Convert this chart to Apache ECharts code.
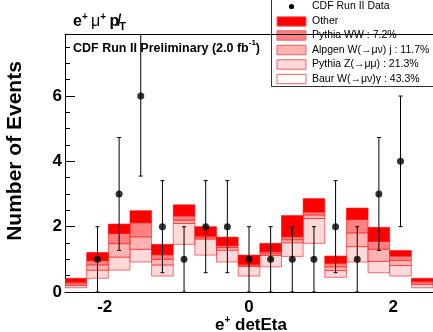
<!DOCTYPE html>
<html lang="en">
<head>
    <meta charset="UTF-8">
    <title>e mu detEta</title>
    <script src="https://cdn.jsdelivr.net/npm/echarts@6/dist/echarts.min.js"></script>
    <style>
        html, body { margin: 0; padding: 0; background: #ffffff; }
        #chart { width: 433px; height: 332px; }
    </style>
</head>
<body>
    <div id="chart"></div>

    <script>
        // bins of 0.3 in detEta, centred on 0
        const binCenters = [-2.4, -2.1, -1.8, -1.5, -1.2, -0.9, -0.6, -0.3, 0, 0.3, 0.6, 0.9, 1.2, 1.5, 1.8, 2.1, 2.4];
        const binWidth = 0.3;

        // stacked backgrounds, bottom to top
        const baur   = [0.13, 0.42, 0.67, 0.92, 0.49, 1.46, 1.13, 0.92, 0.49, 0.77, 1.09, 1.49, 0.45, 0.92, 0.59, 0.49, 0.13];
        const zmumu  = [0.07, 0.25, 0.40, 0.39, 0.34, 0.64, 0.49, 0.36, 0.29, 0.35, 0.42, 0.76, 0.21, 0.47, 0.35, 0.32, 0.10];
        const wjets  = [0.05, 0.16, 0.41, 0.38, 0.17, 0.10, 0.04, 0.08, 0.04, 0.05, 0.09, 0.11, 0.11, 0.42, 0.37, 0.16, 0.05];
        const ww     = [0.05, 0.13, 0.31, 0.43, 0.14, 0.13, 0.05, 0.06, 0.03, 0.06, 0.09, 0.09, 0.11, 0.41, 0.24, 0.13, 0.05];
        const other  = [0.12, 0.25, 0.29, 0.37, 0.32, 0.34, 0.29, 0.26, 0.28, 0.26, 0.65, 0.41, 0.22, 0.35, 0.43, 0.17, 0.09];

        // data
        const dataCounts = [0, 1, 3, 6, 2, 1, 2, 2, 1, 1, 1, 1, 2, 1, 3, 4, 0];
        const dataErrors = [0, 1, 1.73, 2.45, 1.41, 1, 1.41, 1.41, 1, 1, 1, 1, 1.41, 1, 1.73, 2, 0];

        const xTicks = [-2, 0, 2];
        const xMinorTicks = [-2.5, -1.5, -1, -0.5, 0.5, 1, 1.5, 2.5];
        const yTicks = [0, 2, 4, 6];
        const yMinorTicks = [0.5, 1, 1.5, 2.5, 3, 3.5, 4.5, 5, 5.5, 6.5, 7, 7.5];

        const legendNames = ['CDF Run II Data', 'Other', 'Pythia WW : 7.2%', 'Alpgen W(\u2192\u03bc\u03bd) j : 11.7%',
                             'Pythia Z(\u2192\u03bc\u03bc) : 21.3%', 'Baur W(\u2192\u03bc\u03bd)\u03b3 : 43.3%'];

        const FONT = 'Liberation Sans';
        const EDGE = 'rgba(255,0,0,0.55)';

        const layers = [
            { name: legendNames[5], values: baur,  color: '#ffffff', edge: null },
            { name: legendNames[4], values: zmumu, color: '#ffd9d9', edge: EDGE },
            { name: legendNames[3], values: wjets, color: '#ffb3b3', edge: EDGE },
            { name: legendNames[2], values: ww,    color: '#ff8080', edge: EDGE },
            { name: legendNames[1], values: other, color: '#ff0000', edge: EDGE }
        ];

        const running = binCenters.map(() => 0);
        const histSeries = layers.map(layer => {
            const rows = binCenters.map((c, i) => {
                const lo = running[i];
                running[i] = lo + layer.values[i];
                return [c, lo, running[i]];
            });
            return {
                name: layer.name,
                type: 'custom',
                clip: true,
                data: rows,
                renderItem: (params, api) => {
                    const c = api.value(0);
                    const p0 = api.coord([c - binWidth / 2, api.value(2)]);
                    const p1 = api.coord([c + binWidth / 2, api.value(1)]);
                    return {
                        type: 'rect',
                        shape: { x: p0[0], y: p0[1], width: p1[0] - p0[0], height: p1[1] - p0[1] },
                        style: { fill: layer.color, stroke: layer.edge, lineWidth: layer.edge ? 1 : 0 }
                    };
                }
            };
        });

        const pointRows = binCenters.map((c, i) => [c, dataCounts[i], dataErrors[i]]).filter(r => r[1] > 0);

        const errorSeries = {
            name: 'errors',
            type: 'custom',
            clip: true,
            z: 5,
            data: pointRows,
            renderItem: (params, api) => {
                const x = api.value(0), y = api.value(1), e = api.value(2);
                const top = api.coord([x, y + e]);
                const bot = api.coord([x, Math.max(0, y - e)]);
                const lineStyle = { stroke: '#000', lineWidth: 1 };
                return {
                    type: 'group',
                    children: [
                        { type: 'line', shape: { x1: top[0], y1: top[1], x2: bot[0], y2: bot[1] }, style: lineStyle },
                        { type: 'line', shape: { x1: top[0] - 2, y1: top[1], x2: top[0] + 2, y2: top[1] }, style: lineStyle },
                        { type: 'line', shape: { x1: bot[0] - 2, y1: bot[1], x2: bot[0] + 2, y2: bot[1] }, style: lineStyle }
                    ]
                };
            }
        };

        const pointSeries = {
            name: legendNames[0],
            type: 'scatter',
            z: 6,
            symbol: 'circle',
            symbolSize: 7,
            itemStyle: { color: '#000' },
            data: pointRows.map(r => [r[0], r[1]])
        };

        // legend drawn by hand, ROOT style
        const rowY = [6.5, 21.5, 35.5, 50, 64.5, 79];
        const boxColors = ['#ff0000', '#ff8080', '#ffb3b3', '#ffd9d9', '#ffffff'];
        const legendItems = [
            { type: 'rect', shape: { x: 271.5, y: -5, width: 170, height: 91.5 },
              style: { fill: '#fff', stroke: '#333', lineWidth: 1 } },
            { type: 'circle', shape: { cx: 291.5, cy: rowY[0], r: 2.6 }, style: { fill: '#000' } }
        ];
        boxColors.forEach((col, k) => {
            legendItems.push({ type: 'rect', shape: { x: 277, y: rowY[k + 1] - 4.7, width: 29, height: 9.4 },
                               style: { fill: col, stroke: '#ff5c5c', lineWidth: 1 } });
        });
        legendNames.forEach((txt, k) => {
            legendItems.push({ type: 'text', x: 312, y: rowY[k],
                               style: { text: txt, fill: '#000', font: '10.5px "' + FONT + '"', verticalAlign: 'middle' } });
        });

        const chart = echarts.init(document.getElementById('chart'));

        chart.setOption({
            animation: false,
            grid: { left: 65, right: 0, top: 34, bottom: 40 },
            xAxis: [
                {
                    type: 'value', min: -2.55, max: 2.55, position: 'bottom',
                    axisLine: { show: true, onZero: false, lineStyle: { color: '#000', width: 1 } },
                    axisTick: { show: true, inside: true, length: 9, customValues: xTicks, lineStyle: { color: '#000' } },
                    axisLabel: { customValues: xTicks, margin: 7, color: '#000', fontFamily: FONT, fontWeight: 'bold', fontSize: 17 },
                    splitLine: { show: false }
                },
                {
                    type: 'value', min: -2.55, max: 2.55, position: 'bottom',
                    axisLine: { show: false, onZero: false },
                    axisTick: { show: true, inside: true, length: 5, customValues: xMinorTicks, lineStyle: { color: '#000' } },
                    axisLabel: { show: false },
                    splitLine: { show: false }
                },
                {
                    type: 'value', min: -2.55, max: 2.55, position: 'top',
                    axisLine: { show: true, onZero: false, lineStyle: { color: '#000', width: 1 } },
                    axisTick: { show: false }, axisLabel: { show: false }, splitLine: { show: false }
                }
            ],
            yAxis: [
                {
                    type: 'value', min: 0, max: 7.9, position: 'left',
                    axisLine: { show: true, onZero: false, lineStyle: { color: '#000', width: 1 } },
                    axisTick: { show: true, inside: true, length: 10, customValues: yTicks, lineStyle: { color: '#000' } },
                    axisLabel: { customValues: yTicks, margin: 3, color: '#000', fontFamily: FONT, fontWeight: 'bold', fontSize: 17 },
                    splitLine: { show: false }
                },
                {
                    type: 'value', min: 0, max: 7.9, position: 'left', offset: 0,
                    axisLine: { show: false, onZero: false },
                    axisTick: { show: true, inside: true, length: 5, customValues: yMinorTicks, lineStyle: { color: '#000' } },
                    axisLabel: { show: false },
                    splitLine: { show: false }
                }
            ],
            series: [...histSeries, errorSeries, pointSeries],
            graphic: [
                {
                    type: 'text', x: 73, y: 22, z: 50,
                    style: {
                        text: '{b|e}{s|+} {m|\u03bc}{s|+} {b|p\u0338}{t|T}',
                        verticalAlign: 'middle',
                        rich: {
                            b: { fontFamily: FONT, fontWeight: 'bold', fontSize: 16, lineHeight: 20, verticalAlign: 'middle' },
                            m: { fontFamily: FONT, fontSize: 16, lineHeight: 20, verticalAlign: 'middle' },
                            s: { fontFamily: FONT, fontWeight: 'bold', fontSize: 10, lineHeight: 20, verticalAlign: 'top' },
                            t: { fontFamily: FONT, fontWeight: 'bold', fontSize: 11, lineHeight: 20, verticalAlign: 'bottom' }
                        }
                    }
                },
                {
                    type: 'text', x: 73, y: 47, z: 50,
                    style: {
                        text: '{a|CDF Run II Preliminary (2.0 fb}{s|-1}{a|)}',
                        verticalAlign: 'middle',
                        rich: {
                            a: { fontFamily: FONT, fontWeight: 'bold', fontSize: 12.5, lineHeight: 16, verticalAlign: 'bottom' },
                            s: { fontFamily: FONT, fontWeight: 'bold', fontSize: 8, lineHeight: 16, verticalAlign: 'top' }
                        }
                    }
                },
                {
                    type: 'text', x: 251, y: 325, z: 50,
                    style: {
                        text: '{b|e}{s|+}{b| detEta}',
                        align: 'center', verticalAlign: 'middle',
                        rich: {
                            b: { fontFamily: FONT, fontWeight: 'bold', fontSize: 17, lineHeight: 20, verticalAlign: 'middle' },
                            s: { fontFamily: FONT, fontWeight: 'bold', fontSize: 10, lineHeight: 20, verticalAlign: 'top' }
                        }
                    }
                },
                {
                    type: 'text', x: 15, y: 151, rotation: Math.PI / 2, z: 50,
                    style: {
                        text: 'Number of Events', fill: '#000', align: 'center', verticalAlign: 'middle',
                        font: 'bold 21px "' + FONT + '"'
                    }
                },
                { type: 'group', z: 100, children: legendItems }
            ]
        });
    </script>
</body>
</html>
